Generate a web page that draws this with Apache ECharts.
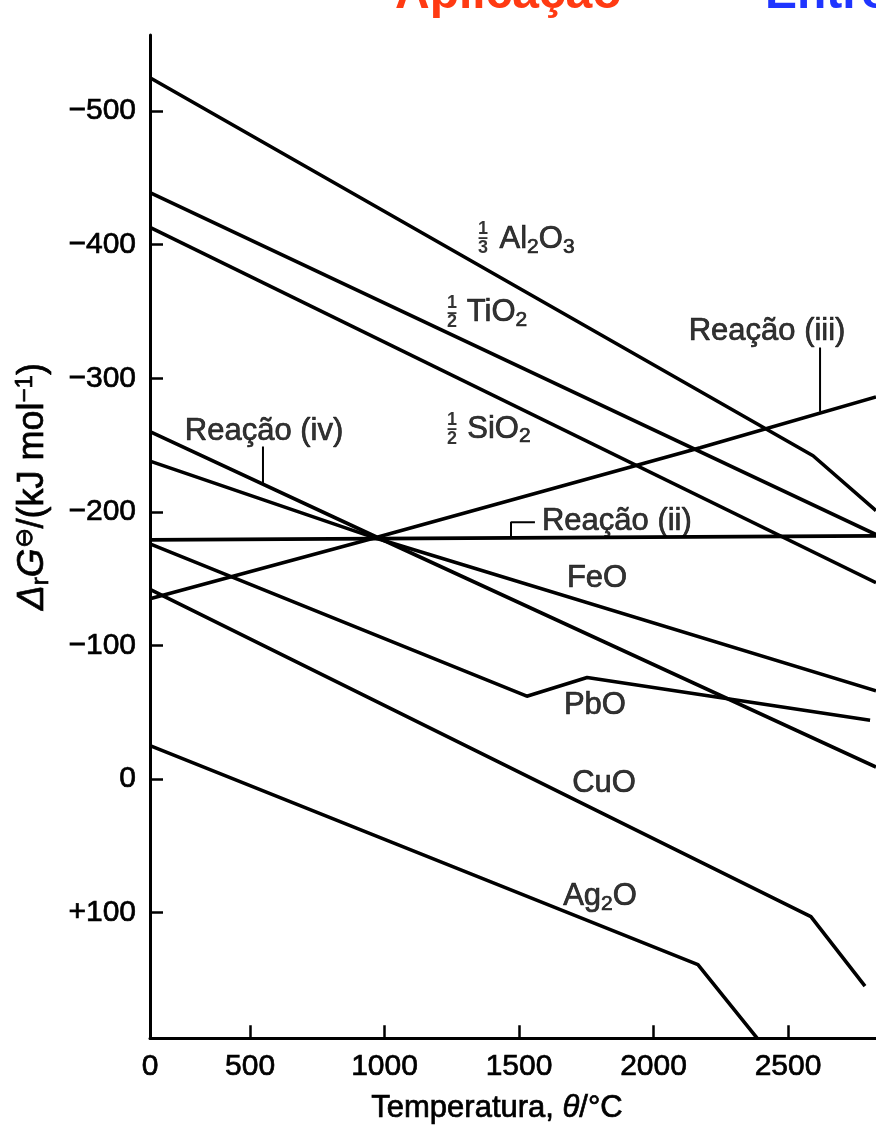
<!DOCTYPE html>
<html lang="pt">
<head>
<meta charset="UTF-8">
<title>Diagrama de Ellingham</title>
<script src="https://cdn.jsdelivr.net/npm/echarts@6/dist/echarts.min.js"></script>
<style>html,body{margin:0;padding:0;background:#fff;}</style>
</head>
<body>
<div id="main" style="width:876px;height:1129px;"></div>
<script>
// eixos: temperatura em °C, ΔrG em kJ/mol (o eixo vertical cresce para baixo)
var xStart = 128, xEnd = 2827;   // the axis begins where the "0" label sits
var yTop = -557, yBottom = 194;
var xTicks = [500, 1000, 1500, 2000, 2500];
var yTicks = [-500, -400, -300, -200, -100, 0, 100];

// curvas: [θ/°C, ΔrG/(kJ/mol)]
var al2o3  = [[128, -525], [2593, -242], [2827, -201]];
var tio2   = [[128, -439], [2827, -183]];
var sio2   = [[128, -413], [2827, -147]];
var reacIII = [[128, -135], [972, -181], [2173, -248], [2827, -286]];
var reacII  = [[128, -179], [2827, -182]];
var reacIV  = [[128, -260], [972, -181], [2827, -9]];
var feo    = [[128, -238], [972, -180], [2827, -66]];
var pbo    = [[128, -176], [1529, -62], [1753, -76], [2805, -44]];
var cuo    = [[128, -142], [2585, 103], [2786, 155]];
var ag2o   = [[128, -25], [2165, 139], [2385, 194]];

// little leader strokes from the reaction labels to their lines
var leaderIII = [[2619, -323], [2619, -275]];
var leaderIV  = [[548, -249], [548, -221]];
var leaderII  = [[1470, -180.5], [1470, -192.3], [1559, -192.3]];

var notes = [
  {at: [1366, -405], text: '{n|1}\n{b|–}\n{n|3}'},
  {at: [1567, -404], text: '{m|Al}{s|2}{m|O}{s|3}'},
  {at: [1251, -349], text: '{n|1}\n{b|–}\n{n|2}'},
  {at: [1418, -349], text: '{m|TiO}{s|2}'},
  {at: [1251, -262], text: '{n|1}\n{b|–}\n{n|2}'},
  {at: [1425, -262], text: '{m|SiO}{s|2}'},
  {at: [2422, -335], text: '{m|Reação (iii)}'},
  {at: [552, -260], text: '{m|Reação (iv)}'},
  {at: [1585, -193], text: '{m|Reação (ii)}', pos: 'right'},
  {at: [1790, -150], text: '{m|FeO}'},
  {at: [1782, -55], text: '{m|PbO}'},
  {at: [1816, 3], text: '{m|CuO}'},
  {at: [1801, 88], text: '{m|Ag}{s|2}{m|O}'}
];

var FONT = '"Liberation Sans", Arial, Helvetica, sans-serif';
// a thin outline in the text colour gives the heavy look of the scanned print
var ink = {color: '#000', fontFamily: FONT, textBorderColor: '#000', textBorderWidth: 0.7};
function st(o) { return Object.assign({}, ink, o); }
var rich = {
  m: st({fontSize: 31, lineHeight: 36}),
  s: st({fontSize: 21, lineHeight: 14, verticalAlign: 'bottom'}),
  p: st({fontSize: 19, lineHeight: 16, verticalAlign: 'top'}),
  i: st({fontSize: 31, lineHeight: 36, fontStyle: 'italic'}),
  t: st({fontSize: 31, lineHeight: 36}),
  n: st({fontSize: 18, lineHeight: 15, fontWeight: 'bold', textBorderWidth: 0}),
  b: st({fontSize: 18, lineHeight: 4, fontWeight: 'bold', textBorderWidth: 0})
};
var richY = {
  i: st({fontSize: 37, lineHeight: 40, fontStyle: 'italic'}),
  t: st({fontSize: 36, lineHeight: 40}),
  s: st({fontSize: 24, lineHeight: 14, verticalAlign: 'bottom'}),
  p: st({fontSize: 24, lineHeight: 18, verticalAlign: 'top'})
};

function curve(data, w) {
  return {
    type: 'line', data: data, showSymbol: false, silent: true,
    lineStyle: {color: '#000', width: w || 3.6}
  };
}

var myChart = echarts.init(document.getElementById('main'));
var option = {
  animation: false,
  backgroundColor: '#fff',
  grid: {left: 150, right: 0, top: 35, bottom: 89},
  xAxis: {
    type: 'value', min: xStart, max: xEnd,
    name: '{t|Temperatura, }{i|θ}{t|/°C}',
    nameLocation: 'middle', nameGap: 52,
    nameTextStyle: {rich: rich, padding: [0, 32, 0, 0]},
    axisLine: {onZero: false, lineStyle: {color: '#000', width: 3}},
    axisTick: {inside: true, length: 13, customValues: xTicks, lineStyle: {color: '#000', width: 2.5}},
    axisLabel: {
      customValues: [xStart].concat(xTicks), showMinLabel: true,
      margin: 14, fontSize: 30, fontFamily: FONT, color: '#000',
      textBorderColor: '#000', textBorderWidth: 0.7,
      formatter: function (v) { return v === xStart ? '0' : String(v); }
    },
    splitLine: {show: false}
  },
  yAxis: {
    type: 'value', inverse: true, min: yTop, max: yBottom,
    name: '{i|Δ}{s|r}{i|G}{p|⊖}{t|/(kJ mol}{p|−1}{t|)}',
    nameLocation: 'middle', nameGap: 97, nameRotate: 90,
    nameTextStyle: {rich: richY, padding: [0, 0, 0, 100]},
    axisLine: {onZero: false, lineStyle: {color: '#000', width: 3}},
    axisTick: {inside: true, length: 13, customValues: yTicks, lineStyle: {color: '#000', width: 2.5}},
    axisLabel: {
      customValues: yTicks, margin: 14, fontSize: 30, fontFamily: FONT, color: '#000',
      textBorderColor: '#000', textBorderWidth: 0.7,
      formatter: function (v) { return v < 0 ? '−' + (-v) : (v > 0 ? '+' + v : '0'); }
    },
    splitLine: {show: false}
  },
  graphic: [
    {type: 'text', x: 395, y: -5, silent: true,
     style: {text: 'Aplicação', fill: '#ff3a12', font: 'bold 48px ' + FONT, verticalAlign: 'middle'}},
    {type: 'text', x: 765, y: -5, silent: true,
     style: {text: 'Entropia', fill: '#1f35ff', font: 'bold 48px ' + FONT, verticalAlign: 'middle'}}
  ],
  series: [
    curve(al2o3), curve(tio2), curve(sio2), curve(reacIII), curve(reacII),
    curve(reacIV), curve(feo), curve(pbo), curve(cuo), curve(ag2o),
    curve(leaderIII, 2), curve(leaderIV, 2), curve(leaderII, 2),
    {
      type: 'scatter', symbolSize: 0, silent: true,
      label: {show: true, position: 'inside', distance: 0, rich: rich, color: '#000'},
      data: notes.map(function (n) {
        return {value: n.at, label: {formatter: n.text, position: n.pos || 'inside'}};
      })
    }
  ]
};
myChart.setOption(option);
</script>
</body>
</html>
